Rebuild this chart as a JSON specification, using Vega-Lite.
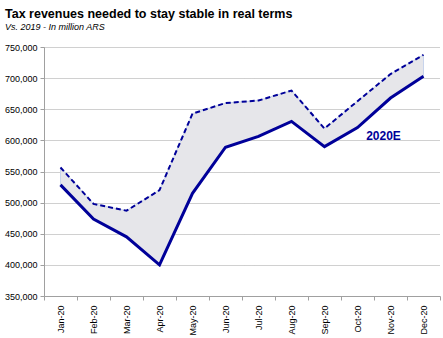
{
  "$schema": "https://vega.github.io/schema/vega-lite/v6.json",
  "width": 396,
  "height": 249,
  "autosize": "none",
  "padding": {"left": 44, "top": 47, "right": 3, "bottom": 42},
  "background": "white",
  "title": {
    "text": "Tax revenues needed to stay stable in real terms",
    "subtitle": "Vs. 2019 - In million ARS",
    "anchor": "start",
    "frame": "group",
    "dx": -39,
    "offset": 11,
    "font": "Liberation Sans",
    "fontSize": 12.5,
    "fontWeight": "bold",
    "color": "#000000",
    "subtitleFont": "Liberation Sans",
    "subtitleFontSize": 9,
    "subtitleFontStyle": "italic",
    "subtitleColor": "#000000",
    "subtitlePadding": 3
  },
  "datasets": {
    "main": [
      {"month": "Jan-20", "actual": 528500, "needed": 556500},
      {"month": "Feb-20", "actual": 473500, "needed": 498000},
      {"month": "Mar-20", "actual": 445000, "needed": 487000},
      {"month": "Apr-20", "actual": 400000, "needed": 520000},
      {"month": "May-20", "actual": 515000, "needed": 643000},
      {"month": "Jun-20", "actual": 589000, "needed": 660000},
      {"month": "Jul-20", "actual": 606500, "needed": 664000},
      {"month": "Aug-20", "actual": 630500, "needed": 680000},
      {"month": "Sep-20", "actual": 590000, "needed": 619000},
      {"month": "Oct-20", "actual": 620500, "needed": 663000},
      {"month": "Nov-20", "actual": 668000, "needed": 706500},
      {"month": "Dec-20", "actual": 703000, "needed": 737500}
    ],
    "labels": [
      {"month": "Nov-20", "value": 607000, "label": "2020E"}
    ]
  },
  "encoding": {
    "x": {
      "field": "month",
      "type": "ordinal",
      "sort": null,
      "scale": {"type": "band", "paddingInner": 0, "paddingOuter": 0},
      "axis": {
        "title": null,
        "labelAngle": -90,
        "labelAlign": "right",
        "labelBaseline": "middle",
        "labelFont": "Liberation Sans",
        "labelFontSize": 9,
        "labelColor": "#000000",
        "labelPadding": 5,
        "tickBand": "extent",
        "tickColor": "#a0a0a0",
        "tickSize": 4,
        "domainColor": "#a0a0a0",
        "grid": false
      }
    }
  },
  "layer": [
    {
      "data": {"name": "main"},
      "mark": {"type": "area", "color": "#e6e6ea", "stroke": "#c8d4ec", "strokeWidth": 1},
      "encoding": {
        "y": {
          "field": "actual",
          "type": "quantitative",
          "scale": {"domain": [350000, 750000], "nice": false, "zero": false},
          "axis": {"title": null, "format": ",d", "values": [350000, 400000, 450000, 500000, 550000, 600000, 650000, 700000, 750000]}
        },
        "y2": {"field": "needed"}
      }
    },
    {
      "data": {"name": "main"},
      "mark": {"type": "line", "color": "#000099", "strokeWidth": 2, "strokeDash": [5, 3]},
      "encoding": {"y": {"field": "needed", "type": "quantitative", "axis": {"title": null, "format": ",d", "values": [350000, 400000, 450000, 500000, 550000, 600000, 650000, 700000, 750000]}}}
    },
    {
      "data": {"name": "main"},
      "mark": {"type": "line", "color": "#000099", "strokeWidth": 3},
      "encoding": {"y": {"field": "actual", "type": "quantitative", "axis": {"title": null, "format": ",d", "values": [350000, 400000, 450000, 500000, 550000, 600000, 650000, 700000, 750000]}}}
    },
    {
      "data": {"name": "labels"},
      "mark": {"type": "text", "color": "#000099", "font": "Liberation Sans", "fontSize": 12, "fontWeight": "bold", "dx": -7, "align": "center", "baseline": "middle"},
      "encoding": {
        "y": {"field": "value", "type": "quantitative", "axis": {"title": null, "format": ",d", "values": [350000, 400000, 450000, 500000, 550000, 600000, 650000, 700000, 750000]}},
        "text": {"field": "label"}
      }
    }
  ],
  "config": {
    "view": {"stroke": null},
    "axisY": {
      "labelOverlap": false,
      "labelFont": "Liberation Sans",
      "labelFontSize": 9,
      "labelColor": "#000000",
      "labelPadding": 3,
      "tickColor": "#a0a0a0",
      "tickSize": 4,
      "domainColor": "#a0a0a0",
      "grid": true,
      "gridColor": "#a0a0a0",
      "gridDash": [1, 1],
      "gridWidth": 1,
      "gridOpacity": 1
    }
  }
}
